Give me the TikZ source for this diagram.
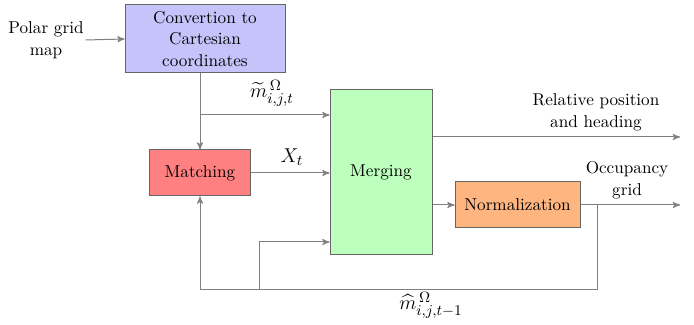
\documentclass[tikz,border=0pt]{standalone}
\usepackage{amsmath}
\usepackage{amssymb}
\usepackage{tikz}
\usetikzlibrary{arrows}
\usetikzlibrary{positioning}
\tikzset{line/.style = {draw=black!50, line width=0.6pt, -stealth'}}
\tikzset{block/.style = {draw=black!60, line width=0.6pt, align=center, inner sep=0}}
\tikzset{mathlabel/.style = {font=\fontsize{12.5}{14}\selectfont, inner sep=1pt}}
\definecolor{mblue}{rgb}{0.77, 0.77, 0.98}
\definecolor{mred}{rgb}{1, 0.5, 0.5}
\definecolor{mgreen}{rgb}{0.74, 1, 0.74}
\definecolor{morange}{rgb}{1, 0.71, 0.5}

\begin{document}
\begin{tikzpicture}[x=0.6pt, y=-0.6pt, font=\fontsize{10.3}{13}\selectfont]
    \useasboundingbox (0, 0) rectangle (694, 325);

    \node [block, fill=mblue, minimum width=96pt, minimum height=40.8pt] (conv) at (205, 39)
        {Convertion to\\Cartesian\\coordinates};
    \node [block, fill=mred, minimum width=60.6pt, minimum height=27.6pt] (match) at (200, 173) {Matching};
    \node [block, fill=mgreen, minimum width=61.2pt, minimum height=99pt] (merge) at (381, 172.5) {Merging};
    \node [block, fill=morange, minimum width=75pt, minimum height=27.6pt] (norm) at (517.5, 205) {Normalization};

    \node [align=center, inner sep=1pt] (polar) at (46, 40) {Polar grid\\map};
    \node [align=center] (rel) at (596, 112) {Relative position\\and heading};
    \node [align=center] (occ) at (627, 180) {Occupancy\\grid};

    \coordinate (split) at (200, 115);
    \coordinate (relout) at (680, 137);
    \coordinate (occout) at (680, 205);
    \coordinate (fbtop) at (597, 205);
    \coordinate (fbbot) at (597, 290);
    \coordinate (fbsplit) at (259, 290);
    \coordinate (fbin) at (259, 242);

    \draw [line] (polar.east) -- (conv.west);
    \draw [line] (match.north |- conv.south) -- (match.north);
    \draw [line] (split) -- (split -| merge.west);
    \node [mathlabel] (mtilde) at (272, 93) {$\widetilde{m}^{\,\Omega}_{i,j,t}$};

    \draw [line] (match.east) -- (match.east -| merge.west);
    \node [mathlabel] (xt) at (292, 157) {$X_t$};

    \draw [line] (merge.east |- relout) -- (relout);
    \draw [line] (merge.east |- norm.west) -- (norm.west);
    \draw [line] (norm.east) -- (occout);

    \draw [line] (fbtop) -- (fbbot) -- (fbbot -| match.south) -- (match.south);
    \draw [line] (fbsplit) -- (fbin) -- (fbin -| merge.west);
    \node [mathlabel] (mhat) at (431, 305) {$\widehat{m}^{\,\Omega}_{i,j,t-1}$};
\end{tikzpicture}
\end{document}
